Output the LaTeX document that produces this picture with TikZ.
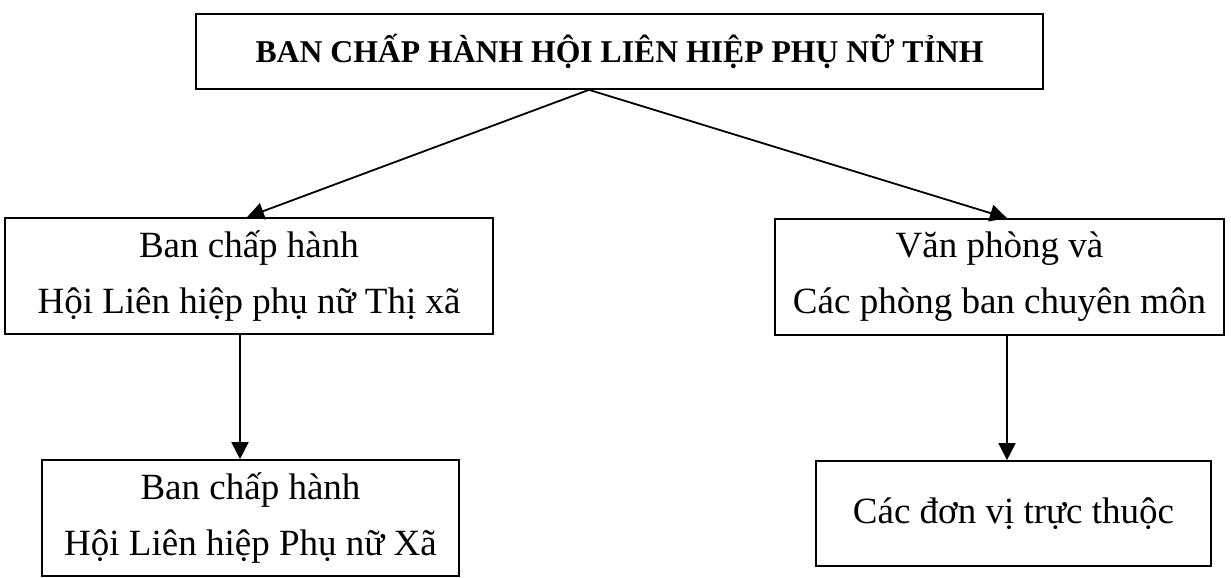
\documentclass[tikz,border=0pt]{standalone}
\usepackage{fontspec}
\setmainfont{Liberation Serif}
\usetikzlibrary{arrows.meta}
\begin{document}
\begin{tikzpicture}[x=1pt,y=-1pt,
  box/.style={draw=black, line width=1.7pt, inner sep=0pt, align=center,
    font=\fontsize{37}{56}\selectfont},
  arr/.style={draw=black, line width=1.8pt, -{Triangle[length=17pt,width=17pt]}}]
\useasboundingbox (0,0) rectangle (1231,578);
\node[box, minimum width=847pt, minimum height=75pt,
  font=\fontsize{31.7}{38}\selectfont\bfseries] (top) at (619.5,51.5)
  {BAN CHẤP HÀNH HỘI LIÊN HIỆP PHỤ NỮ TỈNH};
\node[box, minimum width=488pt, minimum height=116pt] (lm) at (249,276)
  {Ban chấp hành\\Hội Liên hiệp phụ nữ Thị xã};
\node[box, minimum width=449pt, minimum height=116pt] (rm) at (999.5,277)
  {Văn phòng và\\Các phòng ban chuyên môn};
\node[box, minimum width=417pt, minimum height=116pt] (bl) at (250.5,518)
  {Ban chấp hành\\Hội Liên hiệp Phụ nữ Xã};
\node[box, minimum width=395pt, minimum height=105pt] (br) at (1013.5,513.5)
  {Các đơn vị trực thuộc};
\coordinate (apex) at ([xshift=-30.5pt]top.south);
\draw[arr] (apex) -- ([xshift=-2pt]lm.north);
\draw[arr] (apex) -- ([xshift=7.5pt]rm.north);
\draw[arr] ([xshift=-9pt]lm.south) -- ([xshift=-10.5pt]bl.north);
\draw[arr] ([xshift=7.5pt]rm.south) -- ([xshift=-6.5pt]br.north);
\end{tikzpicture}
\end{document}
